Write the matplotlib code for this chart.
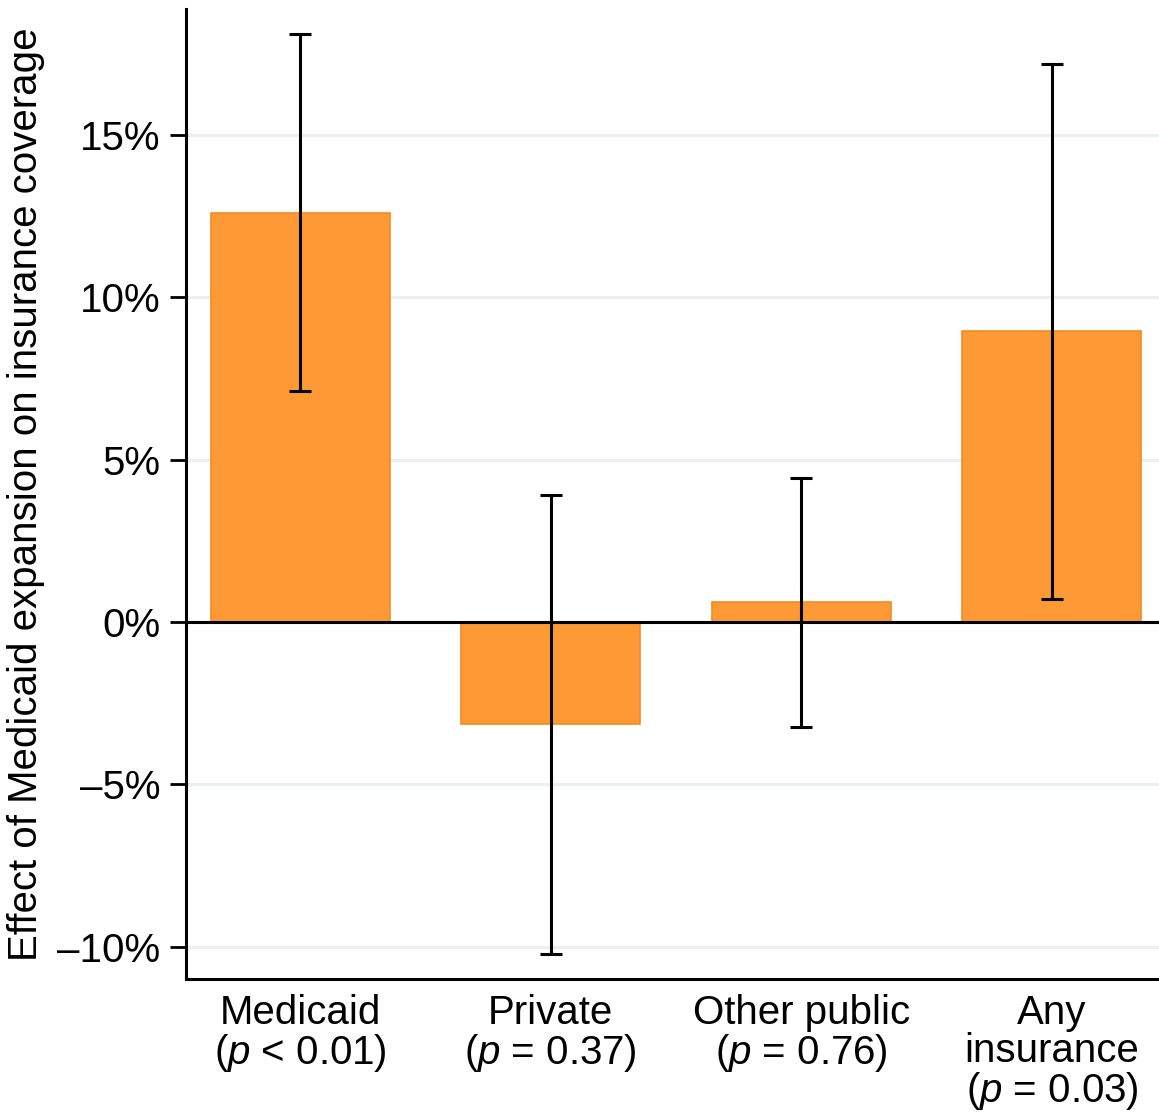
import matplotlib
matplotlib.use("Agg")
import matplotlib.pyplot as plt
from matplotlib.ticker import FuncFormatter, FixedLocator
import numpy as np

plt.rcParams['font.family'] = ['Liberation Sans', 'DejaVu Sans']
plt.rcParams['mathtext.fontset'] = 'custom'
plt.rcParams['mathtext.rm'] = 'Liberation Sans'
plt.rcParams['mathtext.it'] = 'Liberation Sans:italic'

# Estimated effects (percentage points) with 95% confidence bounds
categories = ["Medicaid\n($\\it{p}$ < 0.01)",
              "Private\n($\\it{p}$ = 0.37)",
              "Other public\n($\\it{p}$ = 0.76)",
              "Any\ninsurance\n($\\it{p}$ = 0.03)"]
effects = [12.6, -3.15, 0.62, 8.95]
ci_low = [7.1, -10.22, -3.22, 0.72]
ci_high = [18.1, 3.92, 4.45, 17.17]
y_ticks = [-10, -5, 0, 5, 10, 15]

fig = plt.figure(figsize=(11.59, 11.15), dpi=100)
ax = fig.add_axes([0.1605, 0.122, 0.8395, 0.870])

x = np.arange(len(categories))
eff = np.array(effects)
yerr = np.vstack([eff - np.array(ci_low), np.array(ci_high) - eff])

ax.bar(x, eff, width=0.714, color="#FE9A35", edgecolor="#F58A1F",
       linewidth=1.2, zorder=2)
ax.axhline(0, color="black", linewidth=2.2, zorder=3)
ax.errorbar(x, eff, yerr=yerr, fmt="none", ecolor="black",
            elinewidth=2.2, capsize=7.6, capthick=2.2, zorder=4)

ax.set_xlim(-0.455, 3.427)
ax.set_ylim(-10.99, 18.88)
ax.yaxis.set_major_locator(FixedLocator(y_ticks))


def pct(v, pos):
    s = f"{abs(v):.0f}%"
    return ("\u2013" + s) if v < 0 else s


ax.yaxis.set_major_formatter(FuncFormatter(pct))
ax.set_xticks(x)
ax.set_xticklabels(categories, fontsize=29, linespacing=1.0)
ax.tick_params(axis="x", length=0, pad=11)
ax.tick_params(axis="y", length=11.5, width=2, labelsize=29, pad=7,
               direction="out")
ax.grid(axis="y", color="#E9F0F1", linewidth=2.2, zorder=0)
ax.set_axisbelow(True)

for side in ("top", "right"):
    ax.spines[side].set_visible(False)
for side in ("left", "bottom"):
    ax.spines[side].set_linewidth(2.2)

ax.set_ylabel("Effect of Medicaid expansion on insurance coverage",
              fontsize=29, labelpad=9)

fig.savefig("out.png", dpi=100)
